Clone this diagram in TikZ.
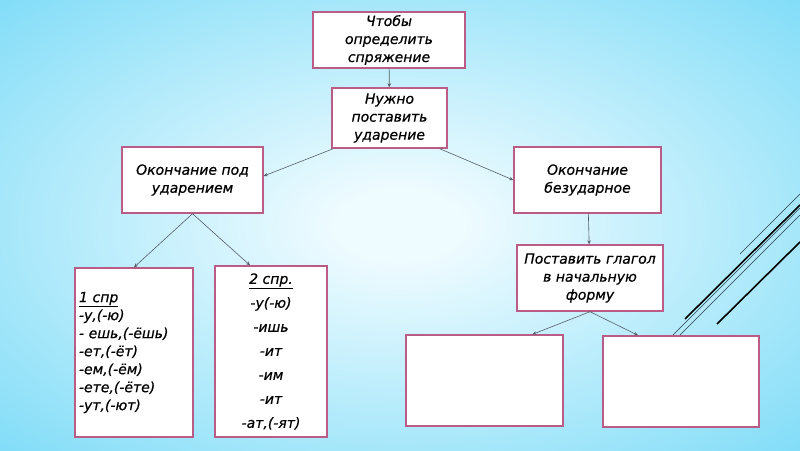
\documentclass[tikz,border=0pt]{standalone}
\usepackage{fontspec}
\setmainfont{DejaVu Sans}
\newfontfamily\boxfont{DejaVu Sans}[FakeBold=0.6]
\usetikzlibrary{arrows.meta, positioning}

\definecolor{bgin}{RGB}{238,251,255}
\definecolor{bgout}{RGB}{66,203,243}
\definecolor{frame}{RGB}{186,92,134}
\definecolor{link}{RGB}{85,95,105}
\definecolor{wisp}{RGB}{40,60,70}

\pgfdeclareradialshading{glow}{\pgfpoint{0bp}{0bp}}%
  {color(0bp)=(bgin); color(4bp)=(bgin); color(54bp)=(bgout); color(80bp)=(bgout)}

\begin{document}
\begin{tikzpicture}[
  x=1pt, y=-1pt,
  box/.style     = {rectangle, draw=frame, line width=1.4pt, fill=white,
                    font=\boxfont\fontsize{14}{18}\selectfont\itshape,
                    align=center, inner sep=2pt},
  listbox/.style = {box, align=left, text width=110pt, inner sep=4pt},
  arr/.style     = {-{Stealth[length=4pt,width=3.5pt]}, line width=0.6pt, draw=link},
  thinwisp/.style  = {line width=0.6pt, draw=wisp},
  thickwisp/.style = {line width=1.6pt, draw=black},
]

% ── Background ────────────────────────────────────────────────────────────────
\shade[shading=glow] (0,0) rectangle (800,450);
\useasboundingbox (0,0) rectangle (800,450);

% ── Top of the tree ───────────────────────────────────────────────────────────
\node[box, minimum width=152pt, minimum height=56pt] (goal) at (389,40)
  {Чтобы\\определить\\спряжение};
\node[box, minimum width=115pt, minimum height=60pt] (need) at (389.5,118)
  {Нужно\\поставить\\ударение};

% ── Stressed / unstressed ending ──────────────────────────────────────────────
\node[box, minimum width=141pt, minimum height=66pt] (stress) at (192.5,180)
  {Окончание под\\ударением};
\node[box, minimum width=147pt, minimum height=66pt] (plain)  at (587.5,180)
  {Окончание\\безударное};

% ── Conjugation endings ───────────────────────────────────────────────────────
\node[listbox, minimum height=169pt] (first) at (134,352.5)
  {\underline{1 спр}\\-у,(-ю)\\- ешь,(-ёшь)\\-ет,(-ёт)\\-ем,(-ём)\\-ете,(-ёте)\\-ут,(-ют)};
\node[box, minimum width=112pt, minimum height=171pt,
      font=\boxfont\fontsize{14}{24}\selectfont\itshape] (second) at (271,351.5)
  {\underline{2 спр.}\\-у(-ю)\\-ишь\\-ит\\-им\\-ит\\-ат,(-ят)};

% ── Infinitive ────────────────────────────────────────────────────────────────
\node[box, minimum width=146pt, minimum height=66pt] (inf) at (590,278)
  {Поставить глагол\\в начальную\\форму};
\node[box, minimum width=157pt, minimum height=91pt] (endA) at (484.5,380.5) {};
\node[box, minimum width=156pt, minimum height=91pt] (endB) at (681,381.5) {};

% ── Arrows ────────────────────────────────────────────────────────────────────
\foreach \from/\to in {goal/need, plain/inf}
  \draw[arr] (\from) -- (\to);
\draw[arr] ([xshift=2pt]need.south west) -- ([yshift=4pt]stress.east);
\draw[arr] ([xshift=-8pt]need.south east) -- (plain.west);
\draw[arr] (stress.south) -- (first.north);
\draw[arr] (stress.south) -- ([xshift=-21pt]second.north);
\draw[arr] (inf.south) -- ([xshift=48pt]endA.north);
\draw[arr] (inf.south) -- ([xshift=-43pt]endB.north);

% ── Corner strokes ────────────────────────────────────────────────────────────
\draw[thinwisp]  (740,254) -- (800,194);
\draw[thickwisp] (685,319) -- (800,205);
\draw[thinwisp]  (673,335) -- (800,208);
\draw[thinwisp]  (680,335) -- (800,215);
\draw[thickwisp] (717,324) -- (800,242);

\end{tikzpicture}
\end{document}
